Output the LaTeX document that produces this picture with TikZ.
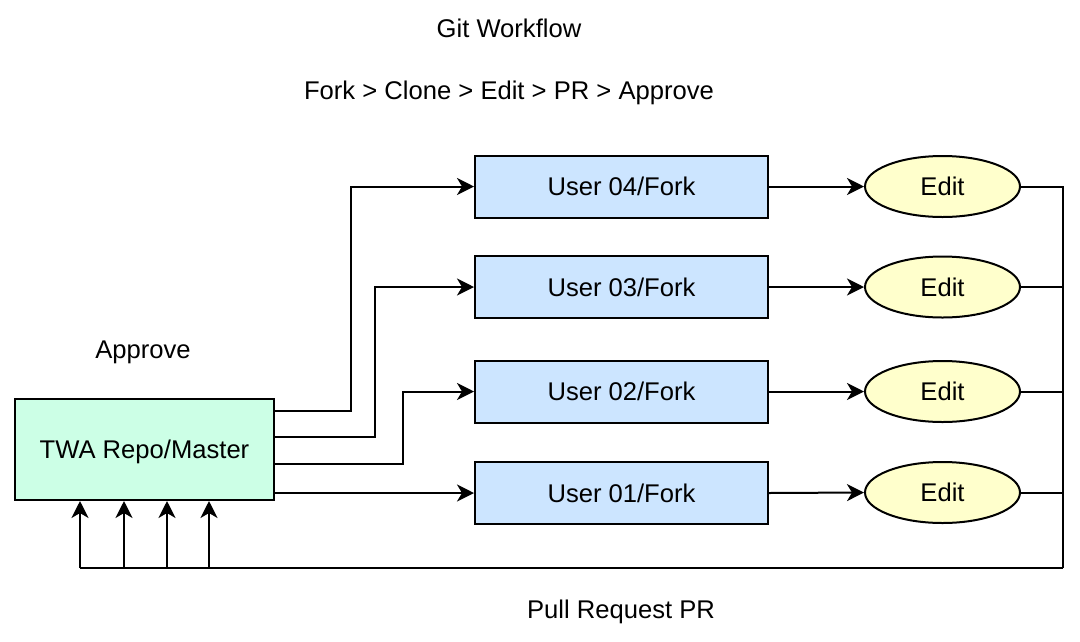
\documentclass[tikz,border=0pt]{standalone}
\usepackage{fontspec}
\setmainfont{Liberation Sans}
\usetikzlibrary{arrows.meta,shapes.geometric,calc}
\definecolor{mint}{HTML}{CCFFE6}
\definecolor{ublue}{HTML}{CCE5FF}
\definecolor{eyel}{HTML}{FFFFCC}
\begin{document}
\begin{tikzpicture}[x=1pt,y=-1pt,
  every node/.style={font=\fontsize{25.6}{30}\selectfont, inner sep=0pt, text height=18.3pt, text depth=0pt},
  userbox/.style={draw, line width=2pt, fill=ublue, minimum width=293pt, minimum height=62pt},
  editell/.style={draw, line width=2pt, fill=eyel, ellipse, minimum width=155pt, minimum height=61pt},
  repobox/.style={draw, line width=2pt, fill=mint, minimum width=259pt, minimum height=101pt},
  conn/.style={line width=2pt, line join=miter},
  arr/.style={conn, -{Stealth[length=17pt,width=17pt,inset=5pt]}},
  lbl/.style={}
]
\useasboundingbox (0,0) rectangle (1080,641);

\node[lbl] (title) at (509,28) {Git Workflow};
\node[lbl] (steps) at (509,90) {Fork > Clone > Edit > PR > Approve};
\node[lbl] (approve) at (143,349) {Approve};
\node[lbl] (pr) at (621,609) {Pull Request PR};

\node[repobox] (twa) at (144.5,449.5) {TWA Repo/Master};

\node[userbox] (u4) at (621.5,186.5) {User 04/Fork};
\node[userbox] (u3) at (621.5,287) {User 03/Fork};
\node[userbox] (u2) at (621.5,391.5) {User 02/Fork};
\node[userbox] (u1) at (621.5,493) {User 01/Fork};

\node[editell] (e4) at (942.5,186.5) {Edit};
\node[editell] (e3) at (942.5,287) {Edit};
\node[editell] (e2) at (942.5,391.5) {Edit};
\node[editell] (e1) at (942.5,492.5) {Edit};

% repo to forks
\draw[arr] (twa.east |- 0,411) -- (351,411) |- (u4.west);
\draw[arr] (twa.east |- 0,437) -- (375,437) |- (u3.west);
\draw[arr] (twa.east |- 0,464) -- (403,464) |- (u2.west);
\draw[arr] (twa.east |- u1.west) -- (u1.west);

% forks to edits
\draw[arr] (u4.east) -- (e4.west);
\draw[arr] (u3.east) -- (e3.west);
\draw[arr] (u2.east) -- (e2.west);
\draw[arr] (u1.east) -- (e1.west);

% pull requests back
\coordinate (rc) at (1063,568);
\draw[conn] (e4.east) -- (rc |- e4.east) -- (rc);
\draw[conn] (e3.east) -- (rc |- e3.east);
\draw[conn] (e2.east) -- (rc |- e2.east);
\draw[conn] (e1.east) -- (rc |- e1.east);
\draw[conn] (rc) -- (80,568);
\draw[arr] (80,568) -- (twa.south -| 80,0);
\draw[arr] (124,568) -- (twa.south -| 124,0);
\draw[arr] (167,568) -- (twa.south -| 167,0);
\draw[arr] (209,568) -- (twa.south -| 209,0);
\end{tikzpicture}
\end{document}
